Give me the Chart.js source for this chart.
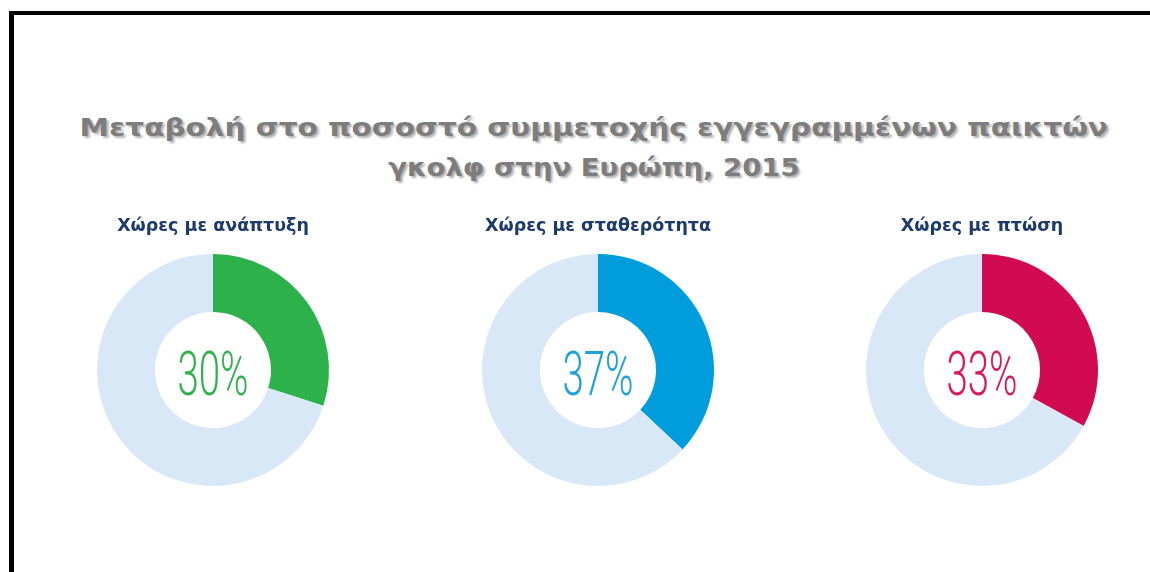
<!DOCTYPE html>
<html lang="el">
<head>
<meta charset="utf-8">
<title>Μεταβολή στο ποσοστό συμμετοχής εγγεγραμμένων παικτών γκολφ στην Ευρώπη, 2015</title>
<script src="https://cdn.jsdelivr.net/npm/chart.js@4.4.1/dist/chart.umd.min.js"></script>
<style>
  html, body { margin: 0; padding: 0; background: #fff; }
  body { width: 1150px; height: 572px; position: relative; overflow: hidden; }
  .frame {
    position: absolute; left: 9px; top: 11px; right: -10px; bottom: -10px;
    border-left: 5px solid #000; border-top: 4px solid #000;
  }
  .heading {
    position: absolute; left: 0; top: 108px; width: 1188px;
    text-align: center;
    font-family: "DejaVu Sans", sans-serif; font-weight: bold;
    font-size: 25px; line-height: 40px; color: #7d7d7d;
    text-shadow: 2px 2px 2px rgba(0, 0, 0, 0.3);
  }
  .heading span { display: inline-block; white-space: nowrap; }
  .heading .l1 { transform: scaleX(1.18); }
  .heading .l2 { transform: scaleX(1.1); }
  .ring { position: absolute; top: 216px; width: 300px; height: 274px; }
</style>
</head>
<body>
<div class="frame"></div>
<div class="heading"><span class="l1">Μεταβολή στο ποσοστό συμμετοχής εγγεγραμμένων παικτών</span><br><span class="l2">γκολφ στην Ευρώπη, 2015</span></div>
<div class="ring" style="left:63px"><canvas id="c0"></canvas></div>
<div class="ring" style="left:448px"><canvas id="c1"></canvas></div>
<div class="ring" style="left:832px"><canvas id="c2"></canvas></div>

<script>
// ομάδες χωρών και ποσοστά
const groups = ['Χώρες με ανάπτυξη', 'Χώρες με σταθερότητα', 'Χώρες με πτώση'];
const shares = [30, 37, 33];
const sliceColors = ['#2db14b', '#009ddc', '#d20a50'];
const labelColors = ['#33b14e', '#1ea0de', '#d81a5a'];
const restColor = '#d9e8f7';

// γράφει το ποσοστό στο κέντρο του δακτυλίου
const centerText = {
  id: 'centerText',
  afterDraw(chart, args, opts) {
    const arc = chart.getDatasetMeta(0).data[0];
    if (!arc) return;
    const ctx = chart.ctx;
    ctx.save();
    ctx.translate(arc.x, arc.y + 25);
    ctx.scale(0.62, 1);
    ctx.font = '300 62px Roboto, sans-serif';
    ctx.fillStyle = opts.color;
    ctx.textAlign = 'center';
    ctx.textBaseline = 'alphabetic';
    ctx.fillText(chart.data.datasets[0].data[0] + '%', 0, 0);
    ctx.restore();
  }
};

groups.forEach(function(name, i) {
  new Chart(document.getElementById('c' + i), {
    type: 'doughnut',
    data: {
      labels: [name, ''],
      datasets: [{
        data: [shares[i], 100 - shares[i]],
        backgroundColor: [sliceColors[i], restColor],
        borderWidth: 0,
        hoverOffset: 0
      }]
    },
    options: {
      responsive: true,
      maintainAspectRatio: false,
      animation: false,
      cutout: '50%',
      layout: { padding: { bottom: 4 } },
      events: [],
      plugins: {
        legend: { display: false },
        tooltip: { enabled: false },
        title: {
          display: true,
          text: name,
          color: '#1c3a6a',
          font: { family: '"DejaVu Sans", sans-serif', size: 17.5, weight: 'bold' },
          padding: { top: 0, bottom: 17 }
        },
        centerText: { color: labelColors[i] }
      }
    },
    plugins: [centerText]
  });
});
</script>
</body>
</html>
